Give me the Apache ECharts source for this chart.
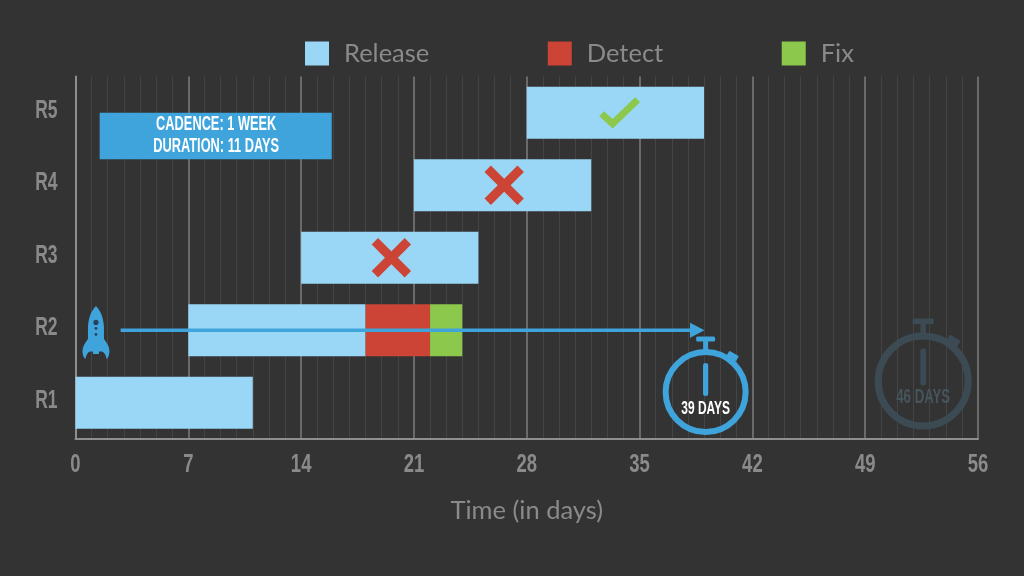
<!DOCTYPE html>
<html><head><meta charset="utf-8">
<style>html,body{margin:0;padding:0;background:#333333}#c{width:1024px;height:576px}</style>
<script src="https://cdn.jsdelivr.net/npm/echarts@6/dist/echarts.min.js"></script>
</head><body><div id="c"></div>
<script>
const categories = ['R1','R2','R3','R4','R5'];
const startDay = [0,7,14,21,28];
const releaseDays = [11,11,11,11,11];
const detectDays = [0,4,0,0,0];
const fixDays = [0,2,0,0,0];
// annotations: x in days, y in release rows (0 = bottom, 5 = top)
const failMarks = [[19.6,2.5],[26.6,3.5]];
const passMarks = [[33.7,4.5]];
const callout = {x0:1.5,x1:15.9,y0:3.86,y1:4.5,lines:'CADENCE: 1 WEEK\nDURATION: 11 DAYS'};
const arrow = {x0:2.8,x1:39,y:1.5};
const rocket = {x:1.27,y:1.47};
const watches = [
 {x:39.1,y:0.647,r:40,sw:6,color:'#3FA4DC',text:'39 DAYS',textColor:'#ffffff',fs:19},
 {x:52.6,y:0.8,r:45,sw:7,color:'#3B4A53',text:'46 DAYS',textColor:'#46545C',fs:21}
];
const GREY='#8A8A8A', COND='"Liberation Sans",sans-serif';

const ROCKET='M14 0C9 5 6.5 12 6 21L6 33C3 37 0.5 41 0.5 45C0.5 49 2 52 3.5 53C4 49 5.5 46.5 8 45.5L11 45.5L11 48L17 48L17 45.5L20 45.5C22.5 46.5 24 49 24.5 53C26 52 27.5 49 27.5 45C27.5 41 25 37 22 33L22 21C21.5 12 19 5 14 0Z';

function renderNotes(params, api){
  const P=(x,y)=>api.coord([x,y]);
  const kids=[];
  // callout
  let a=P(callout.x0,callout.y1), b=P(callout.x1,callout.y0);
  kids.push({type:'rect',shape:{x:a[0],y:a[1],width:b[0]-a[0],height:b[1]-a[1]},style:{fill:'#3FA4DC'}});
  kids.push({type:'text',x:(a[0]+b[0])/2+0.5,y:(a[1]+b[1])/2,scaleX:0.64,style:{text:callout.lines,fill:'#fff',font:'bold 20px '+COND,lineHeight:22,align:'center',verticalAlign:'middle'}});
  // cross marks
  failMarks.forEach(m=>{const c=P(m[0],m[1]);const s=16.5;
    [[-s,-s,s,s],[-s,s,s,-s]].forEach(l=>kids.push({type:'line',shape:{x1:c[0]+l[0],y1:c[1]+l[1],x2:c[0]+l[2],y2:c[1]+l[3]},style:{stroke:'#CC4435',lineWidth:9}}));
  });
  // check marks
  passMarks.forEach(m=>{const c=P(m[0],m[1]);
    kids.push({type:'polyline',shape:{points:[[c[0]-17,c[1]+1],[c[0]-6,c[1]+11],[c[0]+19,c[1]-13]]},style:{stroke:'#8CC84B',fill:null,lineWidth:7}});
  });
  // arrow
  const s=P(arrow.x0,arrow.y), e=P(arrow.x1,arrow.y);
  kids.push({type:'line',shape:{x1:s[0],y1:s[1],x2:e[0]-8,y2:e[1]},style:{stroke:'#3FA4DC',lineWidth:3.5}});
  kids.push({type:'polygon',shape:{points:[[e[0]-14,e[1]-7.5],[e[0]+0.5,e[1]],[e[0]-14,e[1]+7.5]]},style:{fill:'#3FA4DC'}});
  // rocket
  const r=P(rocket.x,rocket.y);
  kids.push({type:'path',shape:{pathData:ROCKET,x:r[0]-13.5,y:r[1]-26.5,width:27,height:53},style:{fill:'#3FA4DC'}});
  [[-10,2.6],[-4,1.4],[2,1.4]].forEach(w=>kids.push({type:'circle',shape:{cx:r[0],cy:r[1]+w[0],r:w[1]},style:{fill:'#26425A'}}));
  // stopwatches
  watches.forEach(w=>{const c=P(w.x,w.y),k=w.r/40,cx=c[0],cy=c[1];
    const st={fill:w.color};
    kids.push({type:'rect',shape:{x:cx-9.5*k,y:cy-55.5*k,width:19*k,height:5*k,r:1.5},style:st});
    kids.push({type:'rect',shape:{x:cx-2.5*k,y:cy-51*k,width:5*k,height:10*k},style:st});
    kids.push({type:'rect',shape:{x:-5.5*k,y:-3*k,width:11*k,height:6*k,r:1},x:cx+27*k,y:cy-36*k,rotation:-Math.PI/6,style:st});
    kids.push({type:'circle',shape:{cx:cx,cy:cy,r:w.r},style:{fill:'rgba(0,0,0,0)',stroke:w.color,lineWidth:w.sw}});
    kids.push({type:'rect',shape:{x:cx-2.6*k,y:cy-29*k,width:5.2*k,height:33*k,r:2.5},style:st});
    kids.push({type:'text',x:cx,y:cy+16.5,scaleX:0.63,style:{text:w.text,fill:w.textColor,font:'bold '+w.fs+'px '+COND,align:'center',verticalAlign:'middle'}});
  });
  return {type:'group',children:kids};
}

const barBase={type:'bar',stack:'t',barWidth:52,xAxisIndex:0,yAxisIndex:0,z:2};
const chart=echarts.init(document.getElementById('c'),null,{renderer:'canvas'});
chart.setOption({
  animation:false,
  backgroundColor:'#333333',
  grid:{left:75.5,right:46,top:76.5,bottom:137,containLabel:false},
  legend:{left:300,top:35.5,itemWidth:24,itemHeight:24,itemGap:118.5,icon:'rect',
    data:['Release','Detect','Fix'],selectedMode:false,
    textStyle:{color:GREY,fontFamily:'Lato',fontSize:25.5,padding:[0,0,0,10]}},
  xAxis:{type:'value',min:0,max:56,interval:7,
    name:'Time (in days)',nameLocation:'middle',nameGap:59,
    nameTextStyle:{color:GREY,fontFamily:'Lato',fontSize:25.5},
    axisLine:{show:true,onZero:false,lineStyle:{color:'#8F8F8F',width:2}},
    axisTick:{show:false},
    axisLabel:{color:GREY,fontFamily:COND,fontWeight:'bold',fontSize:25,margin:14},
    splitLine:{show:true,lineStyle:{color:'#6A6A6A',width:2}},
    minorTick:{show:false,splitNumber:7},
    minorSplitLine:{show:true,lineStyle:{color:'#444444',width:1}}},
  yAxis:[
   {type:'category',data:categories,
    axisLine:{show:true,lineStyle:{color:'#8F8F8F',width:2}},axisTick:{show:false},
    axisLabel:{color:GREY,fontFamily:COND,fontWeight:'bold',fontSize:25,margin:18},
    splitLine:{show:false}},
   {type:'value',min:0,max:5,show:false,splitLine:{show:false}}
  ],
  series:[
   {...barBase,name:'offset',data:startDay,itemStyle:{color:'transparent'},silent:true},
   {...barBase,name:'Release',data:releaseDays,itemStyle:{color:'#9AD7F7'}},
   {...barBase,name:'Detect',data:detectDays,itemStyle:{color:'#CC4435'}},
   {...barBase,name:'Fix',data:fixDays,itemStyle:{color:'#8CC84B'}},
   {type:'custom',name:'notes',xAxisIndex:0,yAxisIndex:1,z:6,silent:true,clip:false,
    renderItem:renderNotes,data:[[0,0]],encode:{x:0,y:1}}
  ]
});
// The reference's tick labels use a condensed face: narrow the axis labels in place.
const zr=chart.getZr();
const xTickText=Array.from({length:9},(_,i)=>String(i*7));
zr.storage.getDisplayList(true).forEach(el=>{
  const t=el.style&&el.style.text;
  const host=el.parent;
  if(!t||!host)return;
  if(categories.includes(String(t))){host.scaleX=0.7;host.y-=2;host.markRedraw&&host.markRedraw();}
  else if(xTickText.includes(String(t))){host.scaleX=0.74;host.markRedraw&&host.markRedraw();}
});
zr.refreshImmediately&&zr.refreshImmediately();
</script></body></html>
